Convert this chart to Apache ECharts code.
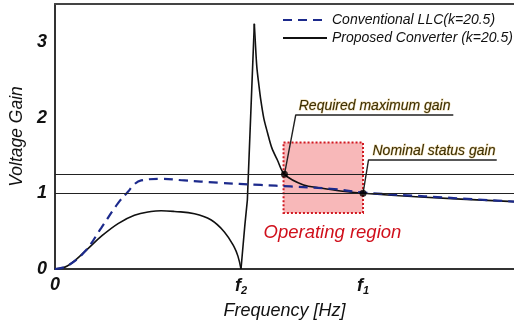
<!DOCTYPE html>
<html>
<head>
<meta charset="utf-8">
<script src="https://cdn.jsdelivr.net/npm/echarts@6/dist/echarts.min.js"></script>
<style>
  html, body { margin: 0; padding: 0; background: #fff; }
  #chart { width: 514px; height: 333px; }
</style>
</head>
<body>
<div id="chart"></div>
<script>
// Frequency is normalised so that f1 = 1.
const f2 = 0.604;
const f1 = 1.0;
const xTicks = [0, f2, f1];
const yTicks = [0, 1, 2, 3];

// Conventional LLC gain curve (k = 20.5)
const conventionalLLC = [
  [0, 0], [0.04, 0.04], [0.097, 0.23], [0.15, 0.54], [0.205, 0.87], [0.237, 1.02],
  [0.258, 1.12], [0.28, 1.17], [0.345, 1.19], [0.42, 1.17], [0.528, 1.14],
  [0.668, 1.11], [0.765, 1.09], [0.895, 1.06], [1.0, 1.01], [1.2, 0.96], [1.49, 0.89]
];

// Proposed converter gain (k = 20.5): low-frequency hump, zero at f2, resonant spike, tail
const proposedHump = [
  [0, 0], [0.04, 0.04], [0.097, 0.23], [0.15, 0.43], [0.205, 0.6], [0.258, 0.71],
  [0.312, 0.76], [0.345, 0.77], [0.388, 0.76], [0.453, 0.73], [0.506, 0.65],
  [0.55, 0.49], [0.582, 0.29], [0.594, 0.17], [0.604, 0]
];
const proposedRise = [
  [0.604, 0], [0.61, 0.28], [0.6165, 0.58], [0.6246, 0.91], [0.6472, 3.24]
];
const proposedFall = [
  [0.6472, 3.24], [0.65, 3.03], [0.6553, 2.67], [0.662, 2.43], [0.6683, 2.23],
  [0.678, 1.99], [0.69, 1.8], [0.704, 1.6], [0.722, 1.44], [0.745, 1.25],
  [0.807, 1.11], [0.862, 1.07], [0.927, 1.03], [1.0, 1.0], [1.186, 0.95], [1.49, 0.89]
];

// Required maximum gain and nominal status gain
const requiredMaxGain = 1.25;
const nominalGain = 1.0;
const gainPoints = [[0.745, requiredMaxGain], [f1, nominalGain]];

// Operating region bounds
const opRegionX = [0.742, 1.0];
const opRegionY = [0.74, 1.67];

// Callout leader lines: marked point -> underline start -> underline end
const requiredLeader = [[0.745, requiredMaxGain], [0.7816, 2.034], [1.293, 2.034]];
const nominalLeader = [[f1, nominalGain], [1.0178, 1.44], [1.434, 1.44]];

const NAME_LLC = 'Conventional LLC(k=20.5)';
const NAME_PROP = 'Proposed Converter (k=20.5)';
const FONT = 'Liberation Sans, Arial, sans-serif';

const chart = echarts.init(document.getElementById('chart'), null, { renderer: 'canvas' });

const blackLine = { color: '#111', width: 1.6 };

chart.setOption({
  animation: false,
  backgroundColor: '#fff',
  textStyle: { fontFamily: FONT },
  grid: { left: 53.5, right: 0, top: 4, bottom: 64, containLabel: false },
  legend: {
    data: [{ name: NAME_LLC }, { name: NAME_PROP }],
    orient: 'vertical',
    left: 277, top: 8,
    itemWidth: 44, itemHeight: 14, itemGap: 4,
    itemStyle: { opacity: 0 },
    textStyle: { fontSize: 14, fontStyle: 'italic', color: '#111', fontFamily: FONT }
  },
  xAxis: [{
    type: 'value', min: 0, max: 1.49,
    splitLine: { show: false },
    axisTick: { show: false },
    axisLine: { show: true, onZero: false, lineStyle: { color: '#333', width: 2 } },
    axisLabel: {
      customValues: xTicks,
      margin: 7,
      color: '#111',
      fontSize: 18, fontStyle: 'italic', fontWeight: 'bold', fontFamily: FONT,
      formatter: function (v) {
        if (Math.abs(v) < 1e-9) return '0';
        if (Math.abs(v - f2) < 1e-6) return '{f|f}{s|2}';
        return '{f|f}{s|1}';
      },
      rich: {
        f: { fontSize: 18, fontStyle: 'italic', fontWeight: 'bold', color: '#111', fontFamily: FONT },
        s: { fontSize: 11, fontStyle: 'italic', fontWeight: 'bold', color: '#111', fontFamily: FONT, padding: [9, 0, 0, 0] }
      }
    },
    name: 'Frequency [Hz]',
    nameLocation: 'middle',
    nameGap: 33,
    nameTextStyle: { fontSize: 18, fontStyle: 'italic', color: '#111', fontFamily: FONT }
  }, {
    type: 'value', min: 0, max: 1.49, position: 'top',
    splitLine: { show: false }, axisTick: { show: false }, axisLabel: { show: false },
    axisLine: { show: true, onZero: false, lineStyle: { color: '#444', width: 2 } }
  }],
  yAxis: {
    type: 'value', min: 0, max: 3.5,
    splitLine: { show: false },
    axisTick: { show: false },
    axisLine: { show: true, onZero: false, lineStyle: { color: '#333', width: 2 } },
    axisLabel: {
      customValues: yTicks,
      margin: 8,
      color: '#111',
      fontSize: 18, fontStyle: 'italic', fontWeight: 'bold', fontFamily: FONT
    },
    name: 'Voltage Gain',
    nameLocation: 'middle',
    nameRotate: 90,
    nameGap: 28,
    nameTextStyle: { fontSize: 17.5, fontStyle: 'italic', color: '#111', fontFamily: FONT }
  },
  series: [
    {
      // operating region and gain reference lines
      type: 'line', name: 'regions', data: [], z: 1, silent: true,
      markArea: {
        silent: true,
        itemStyle: { color: '#f8b8b9', borderColor: '#d11a22', borderWidth: 2, borderType: 'dotted' },
        data: [[{ coord: [opRegionX[0], opRegionY[1]] }, { coord: [opRegionX[1], opRegionY[0]] }]]
      },
      markLine: {
        silent: true, symbol: 'none', label: { show: false },
        lineStyle: { color: '#222', width: 1.2, type: 'solid' },
        data: [{ yAxis: requiredMaxGain }, { yAxis: nominalGain }]
      }
    },
    {
      name: NAME_PROP, type: 'line', data: proposedHump, smooth: 0.4,
      showSymbol: false, symbol: 'none', lineStyle: blackLine, itemStyle: { color: '#111' }, z: 3
    },
    {
      name: NAME_PROP, type: 'line', data: proposedRise, smooth: false,
      showSymbol: false, symbol: 'none', lineStyle: blackLine, itemStyle: { color: '#111' }, z: 3
    },
    {
      name: NAME_PROP, type: 'line', data: proposedFall, smooth: 0.3,
      showSymbol: false, symbol: 'none', lineStyle: blackLine, itemStyle: { color: '#111' }, z: 3
    },
    {
      name: NAME_LLC, type: 'line', data: conventionalLLC, smooth: 0.4,
      showSymbol: false, symbol: 'none',
      lineStyle: { color: '#1c2a8c', width: 2.2, type: [9, 6] },
      itemStyle: { color: '#1c2a8c' }, z: 4
    },
    {
      name: 'requiredLeader', type: 'line', data: requiredLeader, symbol: 'none',
      lineStyle: { color: '#222', width: 1.4 }, z: 4, silent: true
    },
    {
      name: 'nominalLeader', type: 'line', data: nominalLeader, symbol: 'none',
      lineStyle: { color: '#222', width: 1.4 }, z: 4, silent: true
    },
    {
      name: 'gainPoints', type: 'scatter', data: gainPoints, symbolSize: 7,
      itemStyle: { color: '#000' }, z: 6, silent: true
    }
  ]
});

// Callout texts anchored to the leader underlines and the operating region
const reqAnchor = chart.convertToPixel({ gridIndex: 0 }, requiredLeader[1]);
const nomAnchor = chart.convertToPixel({ gridIndex: 0 }, nominalLeader[1]);
const regionCorner = chart.convertToPixel({ gridIndex: 0 }, [opRegionX[0], opRegionY[0]]);

const calloutStyle = {
  fontSize: 14, fontStyle: 'italic', fontFamily: FONT,
  fill: '#3a2e06', stroke: 'rgba(205,155,45,0.45)', lineWidth: 1,
  align: 'left', verticalAlign: 'bottom'
};

chart.setOption({
  graphic: [
    { type: 'text', x: reqAnchor[0] + 3, y: reqAnchor[1] - 2, z: 10,
      style: Object.assign({ text: 'Required maximum gain' }, calloutStyle) },
    { type: 'text', x: nomAnchor[0] + 4, y: nomAnchor[1] - 2, z: 10,
      style: Object.assign({ text: 'Nominal status gain' }, calloutStyle) },
    { type: 'text', x: regionCorner[0] - 20, y: regionCorner[1] + 20, z: 10,
      style: { text: 'Operating region', fontSize: 18.5, fontStyle: 'italic', fontFamily: FONT,
               fill: '#d0101c', align: 'left', verticalAlign: 'middle' } }
  ]
});
</script>
</body>
</html>
